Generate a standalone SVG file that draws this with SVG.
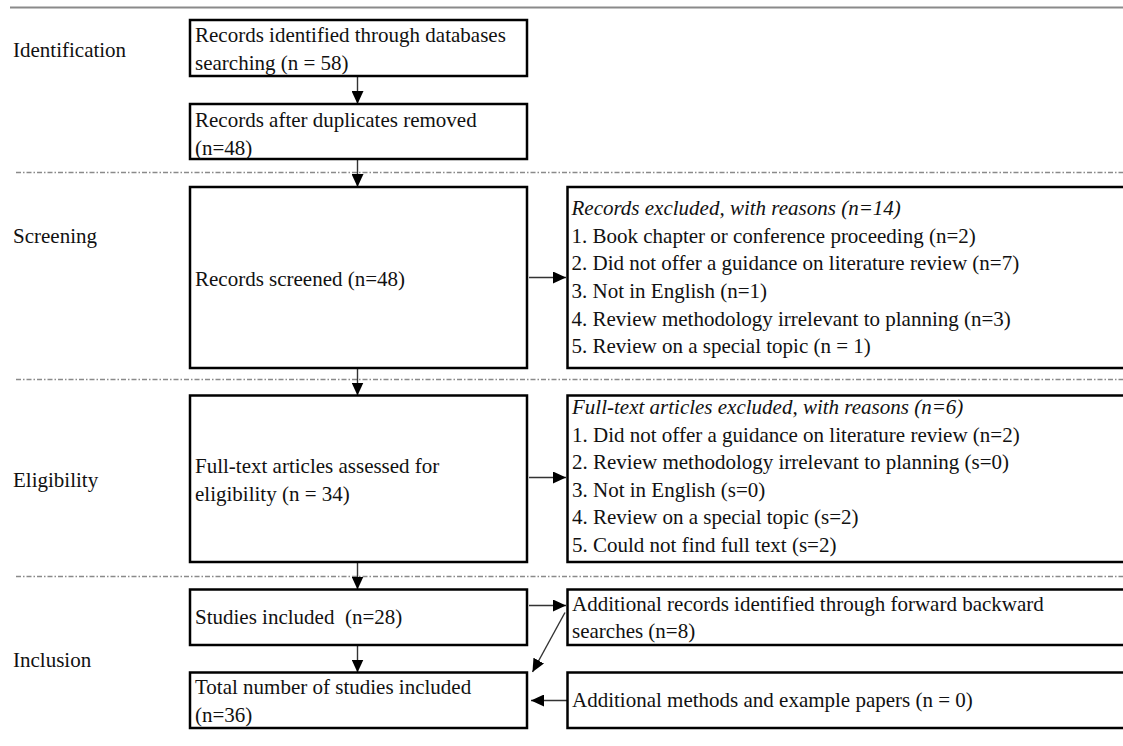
<svg xmlns="http://www.w3.org/2000/svg" width="1123" height="746" viewBox="0 0 1123 746">
<style>
text{font-family:"Liberation Serif","Times New Roman",serif;font-size:21px;fill:#111;white-space:pre}
.it{font-style:italic}
.box{fill:#fff;stroke:#000;stroke-width:2.5}
.div{stroke:#8a8a8a;stroke-width:1.3;stroke-dasharray:5 2 1.5 2;fill:none}
.top{stroke:#8a8a8a;stroke-width:2;fill:none}
.con{stroke:#333;stroke-width:1.4;fill:none;marker-end:url(#ah)}
</style>
<defs>
<marker id="ah" markerUnits="userSpaceOnUse" markerWidth="13" markerHeight="12" refX="13" refY="6" orient="auto">
<path d="M0,0 L13,6 L0,12 z" fill="#000"/>
</marker>
</defs>
<rect x="0" y="0" width="1123" height="746" fill="#fff"/>
<g id="dividers">
<line class="top" x1="10" y1="7.5" x2="1123" y2="7.5"/>
<line class="div" x1="16" y1="172.5" x2="1123" y2="172.5"/>
<line class="div" x1="16" y1="379.5" x2="1123" y2="379.5"/>
<line class="div" x1="16" y1="576.5" x2="1123" y2="576.5"/>
</g>
<g id="labels">
<text x="13" y="57">Identification</text>
<text x="13" y="243">Screening</text>
<text x="13" y="487">Eligibility</text>
<text x="13" y="667">Inclusion</text>
</g>
<g id="connectors">
<line class="con" x1="357.5" y1="76" x2="357.5" y2="104"/>
<line class="con" x1="357.5" y1="159" x2="357.5" y2="187"/>
<line class="con" x1="357.5" y1="368" x2="357.5" y2="395.5"/>
<line class="con" x1="357.5" y1="562" x2="357.5" y2="589.5"/>
<line class="con" x1="357.5" y1="645" x2="357.5" y2="672.5"/>
<line class="con" x1="529" y1="277.5" x2="566" y2="277.5"/>
<line class="con" x1="529" y1="477.5" x2="566" y2="477.5"/>
<line class="con" x1="529" y1="605.5" x2="566" y2="605.5"/>
<line class="con" x1="567.5" y1="700.5" x2="531" y2="700.5"/>
<line class="con" x1="565" y1="612.5" x2="532.5" y2="672"/>
</g>
<g id="n1">
<rect class="box" x="190" y="20" width="337" height="56"/>
<text x="195" y="42">Records identified through databases</text>
<text x="195" y="69.5">searching (n = 58)</text>
</g>
<g id="n2">
<rect class="box" x="190" y="104" width="337" height="55"/>
<text x="195" y="127">Records after duplicates removed</text>
<text x="195" y="154.5">(n=48)</text>
</g>
<g id="n3">
<rect class="box" x="190" y="187" width="337" height="181"/>
<text x="195" y="286">Records screened (n=48)</text>
</g>
<g id="n4">
<rect class="box" x="567.5" y="187" width="570" height="181"/>
<text class="it" x="571.5" y="215">Records excluded, with reasons (n=14)</text>
<text x="571.5" y="242.7">1. Book chapter or conference proceeding (n=2)</text>
<text x="571.5" y="270.4">2. Did not offer a guidance on literature review (n=7)</text>
<text x="571.5" y="298">3. Not in English (n=1)</text>
<text x="571.5" y="325.7">4. Review methodology irrelevant to planning (n=3)</text>
<text x="571.5" y="353.4">5. Review on a special topic (n = 1)</text>
</g>
<g id="n5">
<rect class="box" x="190" y="395.5" width="337" height="166.5"/>
<text x="195" y="472.5">Full-text articles assessed for</text>
<text x="195" y="500.5">eligibility (n = 34)</text>
</g>
<g id="n6">
<rect class="box" x="567.5" y="395.5" width="570" height="166.5"/>
<text class="it" x="572" y="414">Full-text articles excluded, with reasons (n=6)</text>
<text x="572" y="441.5">1. Did not offer a guidance on literature review (n=2)</text>
<text x="572" y="469">2. Review methodology irrelevant to planning (s=0)</text>
<text x="572" y="496.5">3. Not in English (s=0)</text>
<text x="572" y="524">4. Review on a special topic (s=2)</text>
<text x="572" y="551.5">5. Could not find full text (s=2)</text>
</g>
<g id="n7">
<rect class="box" x="190" y="589.5" width="337" height="55.5"/>
<text x="195" y="624">Studies included  (n=28)</text>
</g>
<g id="n8">
<rect class="box" x="567.5" y="589.5" width="570" height="55.5"/>
<text x="572" y="610.7">Additional records identified through forward backward</text>
<text x="572" y="638.3">searches (n=8)</text>
</g>
<g id="n9">
<rect class="box" x="190" y="672.5" width="337" height="55.5"/>
<text x="195" y="693.5">Total number of studies included</text>
<text x="195" y="721.5">(n=36)</text>
</g>
<g id="n10">
<rect class="box" x="567.5" y="672.5" width="570" height="55.5"/>
<text x="572" y="706.7">Additional methods and example papers (n = 0)</text>
</g>
</svg>
